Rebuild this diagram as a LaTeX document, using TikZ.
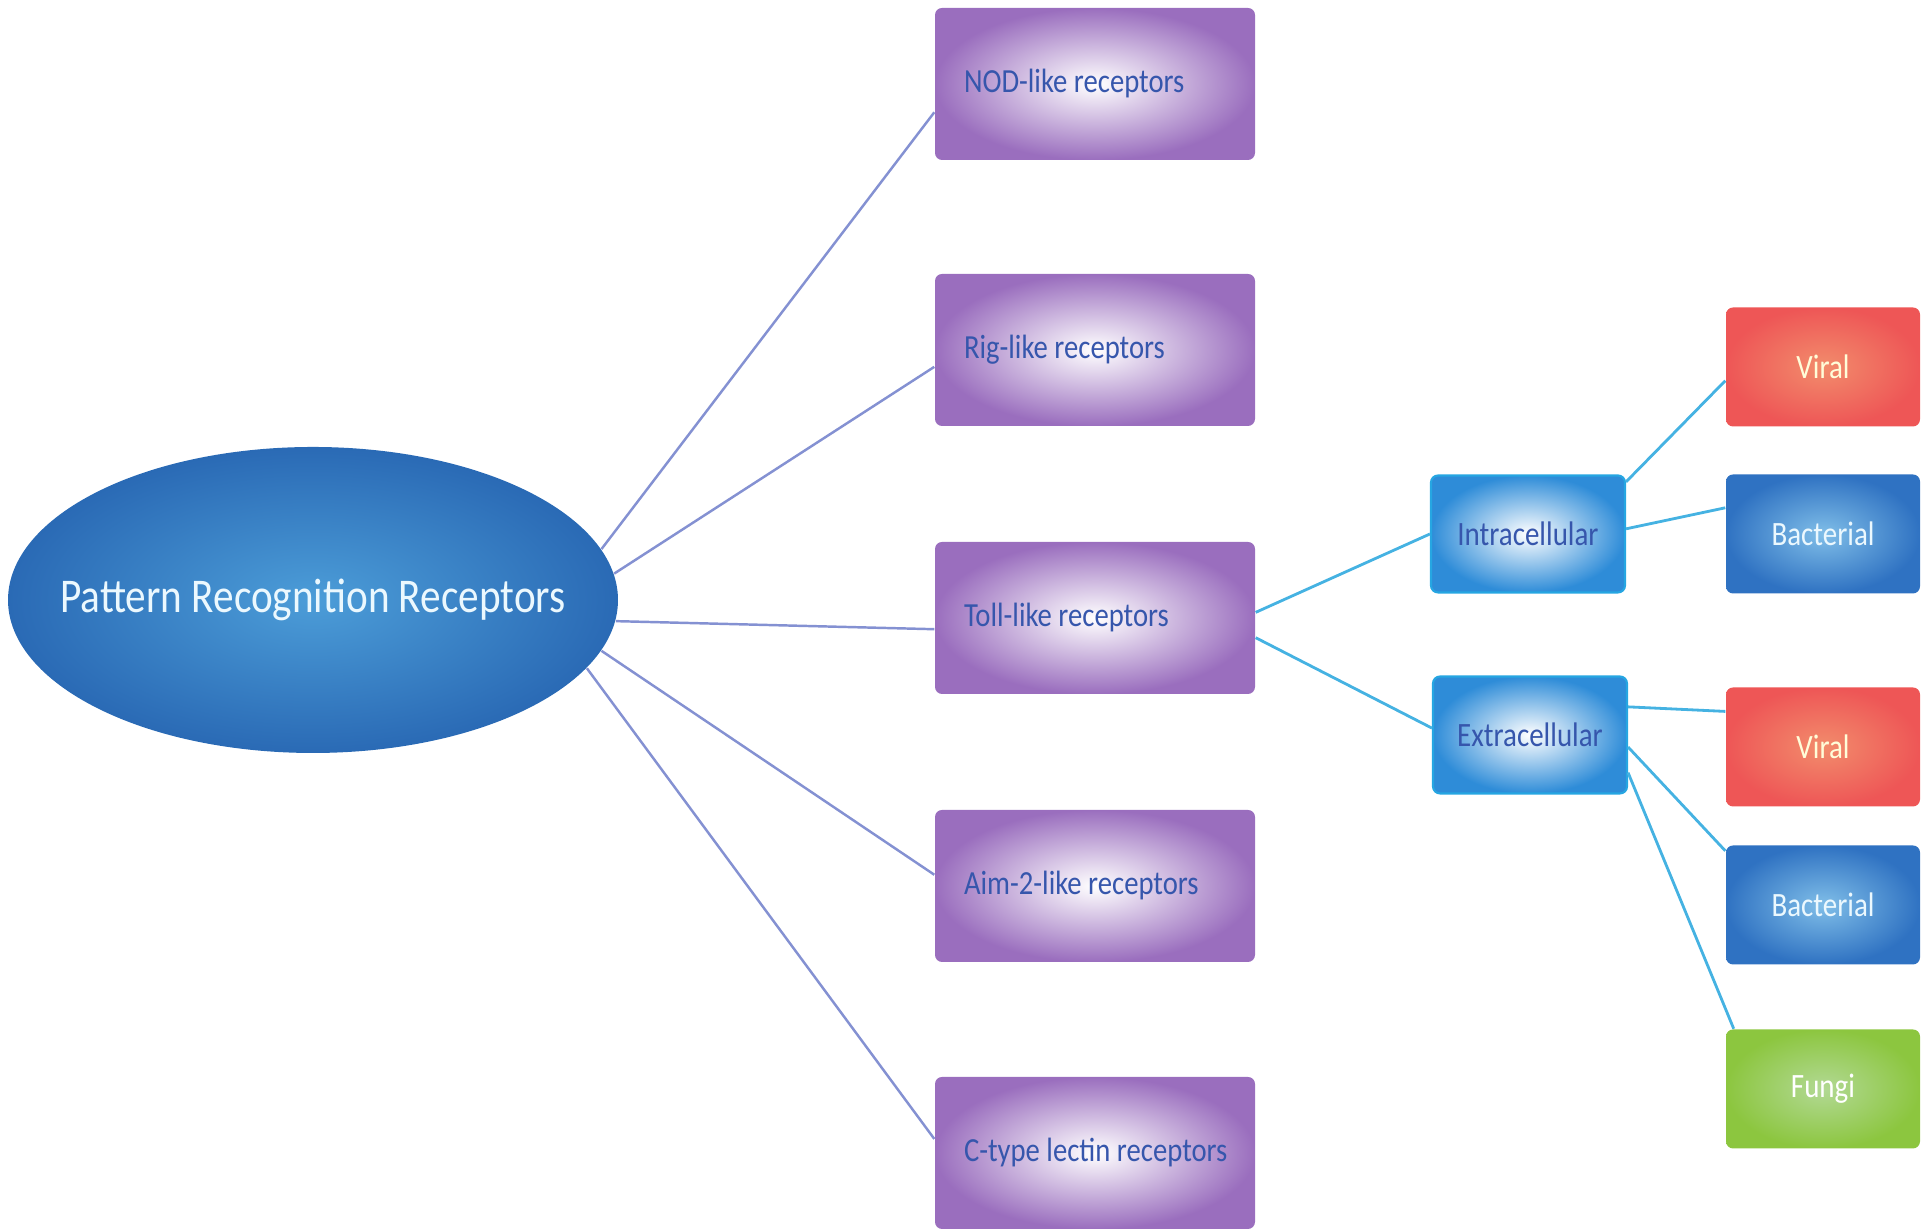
\documentclass[tikz,border=0pt]{standalone}
\usepackage{fontspec}
\setmainfont{Carlito}[FakeStretch=0.85]
\usetikzlibrary{shapes.geometric}

\definecolor{ellin}{HTML}{4C9DD8}
\definecolor{ellout}{HTML}{2A6AB5}
\definecolor{recpurple}{HTML}{9A6EBE}
\definecolor{rectext}{HTML}{3656AC}
\definecolor{cellblue}{HTML}{2E8CD8}
\definecolor{cellline}{HTML}{26A6E2}
\definecolor{viralin}{HTML}{F28C6C}
\definecolor{viralout}{HTML}{EE5656}
\definecolor{bactin}{HTML}{80BEE8}
\definecolor{bactout}{HTML}{2F72C2}
\definecolor{fungiin}{HTML}{B2D994}
\definecolor{fungiout}{HTML}{8CC63F}
\definecolor{linkpurple}{HTML}{8491D2}
\definecolor{linkcyan}{HTML}{45B2E2}

% left-set label of a receptor box
\newcommand\famtext[1]{\makebox[2.62cm][l]{#1}}

\begin{document}
\begin{tikzpicture}[
  recbox/.style={rectangle, rounded corners=2pt, minimum width=3.2cm, minimum height=1.52cm,
    inner color=white, outer color=recpurple, text=rectext,
    font=\fontsize{9.6}{11}\selectfont, inner xsep=0.29cm},
  cellbox/.style={rectangle, rounded corners=2pt, minimum width=1.94cm, minimum height=1.17cm,
    inner color=white, outer color=cellblue, draw=cellline, line width=0.6pt, text=rectext,
    font=\fontsize{9.7}{11}\selectfont},
  kindbox/.style={rectangle, rounded corners=2pt, minimum width=1.94cm, minimum height=1.19cm,
    font=\fontsize{9.7}{11}\selectfont},
  link/.style={draw=linkpurple, line width=0.7pt},
  sublink/.style={draw=linkcyan, line width=0.8pt}]
\useasboundingbox (0,0) rectangle (19.30,12.31);

% centre
\node[ellipse, minimum width=6.10cm, minimum height=3.06cm, inner sep=0pt,
  inner color=ellin, outer color=ellout, text=cyan!8!white,
  font=\fontsize{13.8}{16}\selectfont] (prr) at (3.13,6.31) {\makebox[3cm]{Pattern Recognition Receptors}};

% receptor families
\node[recbox] (nod) at (10.95,11.47) {\famtext{NOD-like receptors}};
\node[recbox] (rig) at (10.95,8.81) {\famtext{Rig-like receptors}};
\node[recbox] (toll) at (10.95,6.13) {\famtext{Toll-like receptors}};
\node[recbox] (aim) at (10.95,3.45) {\famtext{Aim-2-like receptors}};
\node[recbox] (ctype) at (10.95,0.78) {\famtext{C-type lectin receptors}};

% toll-like branches
\node[cellbox] (intra) at (15.28,6.97) {Intracellular};
\node[cellbox] (extra) at (15.30,4.96) {Extracellular};

\node[kindbox, inner color=viralin, outer color=viralout, text=yellow!15!white] (viral1) at (18.23,8.64) {Viral};
\node[kindbox, inner color=bactin, outer color=bactout, text=white!92!cyan] (bact1) at (18.23,6.97) {Bacterial};
\node[kindbox, inner color=viralin, outer color=viralout, text=yellow!15!white] (viral2) at (18.23,4.84) {Viral};
\node[kindbox, inner color=bactin, outer color=bactout, text=white!92!cyan] (bact2) at (18.23,3.26) {Bacterial};
\node[kindbox, inner color=fungiin, outer color=fungiout, text=white] (fungi) at (18.23,1.42) {Fungi};

\draw[link] (prr.10) -- (nod.190);
\draw[link] (prr.5) -- (rig.186);
\draw[link] (prr.-4) -- (toll.184);
\draw[link] (prr.-10) -- (aim.176);
\draw[link] (prr.-14) -- (ctype.175);

\draw[sublink] (toll.2) -- (intra.west);
\draw[sublink] (toll.-7) -- (extra.176);
\draw[sublink] (intra.28) -- (viral1.188);
\draw[sublink] (intra.3) -- (bact1.165);
\draw[sublink] (extra.16) -- (viral2.160);
\draw[sublink] (extra.-7) -- (bact2.151);
\draw[sublink] (extra.-21) -- (fungi.146);
\end{tikzpicture}
\end{document}
